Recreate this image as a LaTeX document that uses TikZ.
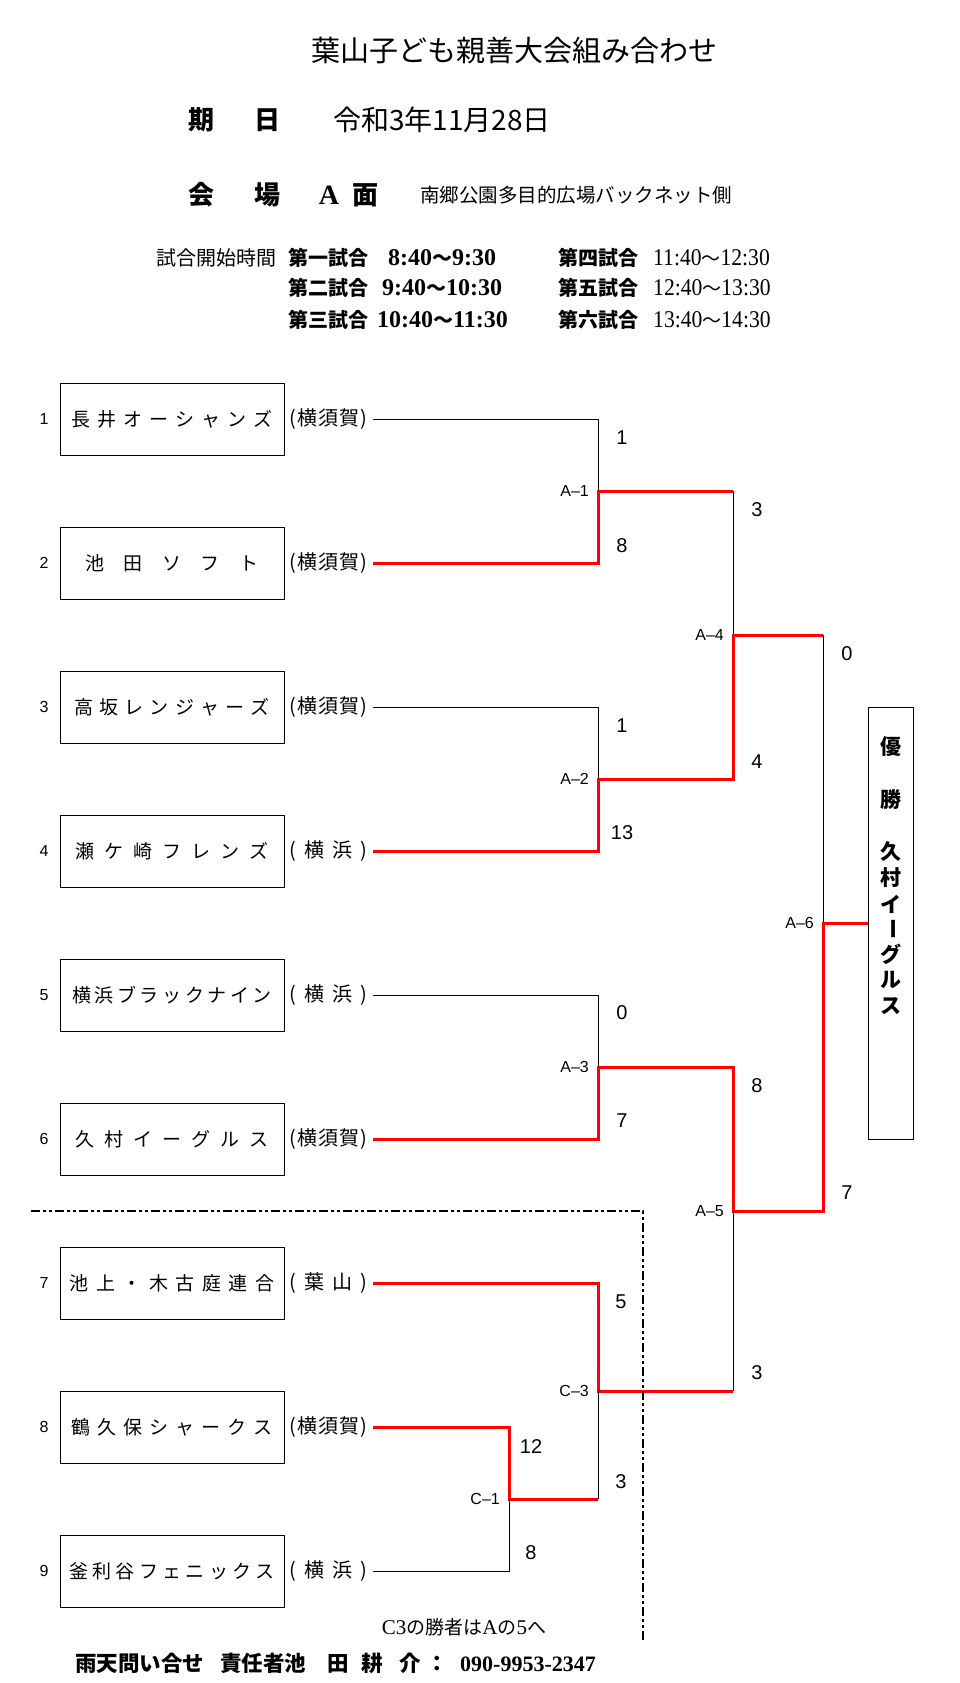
\documentclass[tikz,border=0pt]{standalone}
\usepackage{fontspec}
\setmainfont{Liberation Sans}
\newfontfamily\cjk{Noto Sans CJK JP}
\newfontfamily\serif{Liberation Serif}
\newfontfamily\serifc[FakeStretch=0.9]{Liberation Serif}
\newcommand\fsz[1]{\fontsize{#1}{#1}\selectfont}
% spread the characters of a word evenly (XeTeX: one token per character)
\def\spx#1{\ifx#1\relax\else #1\expandafter\spy\fi}
\def\spy#1{\ifx#1\relax\else\hfill #1\expandafter\spy\fi}
\newcommand\tname[2]{\makebox[#1pt]{\spx #2\relax}}
\newcommand\rname[1]{\makebox[78pt]{(\hfill\spx #1\relax\hfill)}}
\definecolor{winred}{RGB}{255,0,0}
\tikzset{
  teambox/.style={draw, line width=1pt, minimum width=224pt, minimum height=72pt, inner sep=0pt, font=\cjk\fsz{19}},
  region/.style={anchor=west, inner sep=0pt, font=\cjk\fsz{20}},
  tnum/.style={font=\fsz{16}, inner sep=0pt},
  score/.style={font=\fsz{20}, inner sep=0pt},
  mlabel/.style={anchor=east, font=\fsz{16}, inner sep=0pt},
  loser/.style={line width=1pt, black},
  winner/.style={line width=3pt, winred},
  fromteam/.style={shorten <=6pt},
  dashdotline/.style={line width=2pt, dash pattern=on 9pt off 3pt on 3pt off 3pt on 3pt off 3pt},
  lefttext/.style={anchor=west, inner sep=0pt},
  champchar/.style={font=\cjk\bfseries\fsz{21}, inner sep=0pt}
}
\begin{document}
\begin{tikzpicture}[x=1pt, y=-1pt]
\useasboundingbox (0,0) rectangle (959,1683);
\fill[white] (0,0) rectangle (959,1683);

% ---------------- header ----------------
\node[font=\cjk\fsz{29}] (title) at (514,50) {葉山子ども親善大会組み合わせ};
\node[font=\cjk\bfseries\fsz{26}] (ki) at (201,120) {期};
\node[font=\cjk\bfseries\fsz{26}] (hi) at (267,120) {日};
\node[lefttext, font=\cjk\fsz{28}] (date) at (333,120) {令和3年11月28日};
\node[font=\cjk\bfseries\fsz{26}] (kai) at (201,195) {会};
\node[font=\cjk\bfseries\fsz{26}] (jo) at (267,195) {場};
\node[font=\serif\bfseries\fsz{28}] (fa) at (329,195) {A};
\node[font=\cjk\bfseries\fsz{26}] (men) at (365,195) {面};
\node[lefttext, font=\cjk\fsz{19.5}] (venue) at (420,195) {南郷公園多目的広場バックネット側};

\node[lefttext, font=\cjk\fsz{20}] (st) at (156,258) {試合開始時間};
\node[lefttext, font=\cjk\bfseries\fsz{20}] (g1) at (288,258) {第一試合};
\node[lefttext, font=\serif\bfseries\fsz{24}] (h1) at (388,258) {8:40{\cjk\fsz{20}～}9:30};
\node[lefttext, font=\cjk\bfseries\fsz{20}] (g2) at (288,288) {第二試合};
\node[lefttext, font=\serif\bfseries\fsz{24}] (h2) at (382,288) {9:40{\cjk\fsz{20}～}10:30};
\node[lefttext, font=\cjk\bfseries\fsz{20}] (g3) at (288,320) {第三試合};
\node[lefttext, font=\serif\bfseries\fsz{24}] (h3) at (377,320) {10:40{\cjk\fsz{20}～}11:30};
\node[lefttext, font=\cjk\bfseries\fsz{20}] (g4) at (558,258) {第四試合};
\node[lefttext, font=\serifc\fsz{24}] (h4) at (653,258) {11:40{\cjk\fsz{19}～}12:30};
\node[lefttext, font=\cjk\bfseries\fsz{20}] (g5) at (558,288) {第五試合};
\node[lefttext, font=\serifc\fsz{24}] (h5) at (653,288) {12:40{\cjk\fsz{19}～}13:30};
\node[lefttext, font=\cjk\bfseries\fsz{20}] (g6) at (558,320) {第六試合};
\node[lefttext, font=\serifc\fsz{24}] (h6) at (653,320) {13:40{\cjk\fsz{19}～}14:30};

% ---------------- teams ----------------
\node[tnum] (n1) at (44,419) {1};
\node[teambox] (t1) at (172,419) {\tname{201}{長井オーシャンズ}};
\node[region] (r1) at (289,419) {\rname{横須賀}};
\node[tnum] (n2) at (44,563) {2};
\node[teambox] (t2) at (172,563) {\tname{173}{池田ソフト}};
\node[region] (r2) at (289,563) {\rname{横須賀}};
\node[tnum] (n3) at (44,707) {3};
\node[teambox] (t3) at (172,707) {\tname{196}{高坂レンジャーズ}};
\node[region] (r3) at (289,707) {\rname{横須賀}};
\node[tnum] (n4) at (44,851) {4};
\node[teambox] (t4) at (172,851) {\tname{193}{瀬ケ崎フレンズ}};
\node[region] (r4) at (289,851) {\rname{横浜}};
\node[tnum] (n5) at (44,995) {5};
\node[teambox] (t5) at (172,995) {\tname{200}{横浜ブラックナイン}};
\node[region] (r5) at (289,995) {\rname{横浜}};
\node[tnum] (n6) at (44,1139) {6};
\node[teambox] (t6) at (172,1139) {\tname{193}{久村イーグルス}};
\node[region] (r6) at (289,1139) {\rname{横須賀}};
\node[tnum] (n7) at (44,1283) {7};
\node[teambox] (t7) at (172,1283) {\tname{205}{池上・木古庭連合}};
\node[region] (r7) at (289,1283) {\rname{葉山}};
\node[tnum] (n8) at (44,1427) {8};
\node[teambox] (t8) at (172,1427) {\tname{202}{鶴久保シャークス}};
\node[region] (r8) at (289,1427) {\rname{横須賀}};
\node[tnum] (n9) at (44,1571) {9};
\node[teambox] (t9) at (172,1571) {\tname{206}{釜利谷フェニックス}};
\node[region] (r9) at (289,1571) {\rname{横浜}};

% ---------------- junctions ----------------
\coordinate (m1) at (598,491);
\coordinate (m2) at (598,779);
\coordinate (m3) at (598,1067);
\coordinate (c3) at (598,1391);
\coordinate (c1) at (509,1499);
\coordinate (m4) at (733,635);
\coordinate (m5) at (733,1211);
\coordinate (m6) at (823,923);

% champion box
\node[draw, line width=1pt, minimum width=45pt, minimum height=432pt, inner sep=0pt] (champ) at (890.5,923) {};
\node[champchar] (w1) at (891,747) {優};
\node[champchar] (w2) at (891,800) {勝};
\node[champchar] (w3) at (891,852) {久};
\node[champchar] (w4) at (891,878) {村};
\node[champchar] (w5) at (891,904) {イ};
\node[champchar, rotate=-90] (w6) at (891,929) {ー};
\node[champchar] (w7) at (891,954) {グ};
\node[champchar] (w8) at (891,980) {ル};
\node[champchar] (w9) at (891,1006) {ス};

% ---------------- bracket lines ----------------
% A-1
\draw[loser, fromteam] (r1.east) -| (m1);
\draw[winner, fromteam] (r2.east) -| (m1) -- (m1 -| m4);
\draw[loser] (m1 -| m4) -- (m4);
% A-2
\draw[loser, fromteam] (r3.east) -| (m2);
\draw[winner, fromteam] (r4.east) -| (m2) -| (m4) -- (m4 -| m6);
\draw[loser] (m4 -| m6) -- (m6);
% A-3
\draw[loser, fromteam] (r5.east) -| (m3);
\draw[winner, fromteam] (r6.east) -| (m3) -| (m5) -- (m5 -| m6) -- (m6) -- (champ.west);
% C-1 / C-3
\draw[winner, fromteam] (r7.east) -| (c3) -- (c3 -| m5);
\draw[loser] (c3 -| m5) -- (m5);
\draw[winner, fromteam] (r8.east) -| (c1) -- (c1 -| c3);
\draw[loser] (c1 -| c3) -- (c3);
\draw[loser, fromteam] (r9.east) -| (c1);

% match labels
\node[mlabel] (la1) at (589,491) {A–1};
\node[mlabel] (la2) at (589,779) {A–2};
\node[mlabel] (la3) at (589,1067) {A–3};
\node[mlabel] (la4) at (724,635) {A–4};
\node[mlabel] (la5) at (724,1211) {A–5};
\node[mlabel] (la6) at (814,923) {A–6};
\node[mlabel] (lc3) at (589,1391) {C–3};
\node[mlabel] (lc1) at (500,1499) {C–1};

% scores
\node[score] (s1a) at (622,438) {1};
\node[score] (s1b) at (622,546) {8};
\node[score] (s2a) at (622,726) {1};
\node[score] (s2b) at (622,833) {13};
\node[score] (s3a) at (622,1013) {0};
\node[score] (s3b) at (622,1121) {7};
\node[score] (s4a) at (757,510) {3};
\node[score] (s4b) at (757,762) {4};
\node[score] (s5a) at (757,1086) {8};
\node[score] (s5b) at (757,1373) {3};
\node[score] (s6a) at (847,654) {0};
\node[score] (s6b) at (847,1193) {7};
\node[score] (sc1a) at (531,1446) {12};
\node[score] (sc1b) at (531,1553) {8};
\node[score] (sc3a) at (621,1302) {5};
\node[score] (sc3b) at (621,1482) {3};

% dash-dot separator
\coordinate (dd1) at (31,1211);
\coordinate (dd2) at (643,1211);
\coordinate (dd3) at (643,1640);
\draw[dashdotline] (dd1) -- (dd2) -- (dd3);

% notes
\node[font=\cjk\fsz{19}] (note) at (464,1627) {{\serif\fsz{21}C3}の勝者は{\serif\fsz{21}A}の{\serif\fsz{21}5}へ};
\node[lefttext, font=\cjk\bfseries\fsz{21.5}] (foot) at (75,1663) {雨天問い合せ\hspace{16pt}責任者池\hspace{21pt}田\hspace{13pt}耕\hspace{16pt}介\hspace{6pt}：\hspace{12pt}{\serif\bfseries\fsz{22}090-9953-2347}};
\end{tikzpicture}
\end{document}
